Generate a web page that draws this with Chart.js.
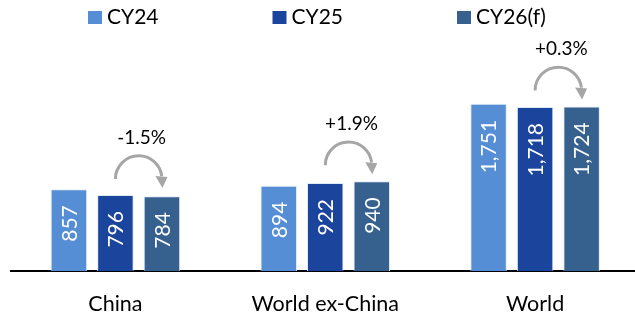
<!DOCTYPE html>
<html><head><meta charset="utf-8">
<script src="https://cdn.jsdelivr.net/npm/chart.js@4.4.1/dist/chart.umd.min.js"></script>
<style>
html,body{margin:0;padding:0;background:#fff;overflow:hidden;width:635px;height:314px}
#wrap{position:absolute;left:0;top:0;width:641px;height:314px}
</style>
</head><body>
<div id="wrap"><canvas id="c" width="641" height="314"></canvas></div>
<script>
const categories = ['China', 'World ex-China', 'World'];
const seriesNames = ['CY24', 'CY25', 'CY26(f)'];
const cy24 = [857, 894, 1751];
const cy25 = [796, 922, 1718];
const cy26 = [784, 940, 1724];
const changeLabels = ['-1.5%', '+1.9%', '+0.3%'];
const seriesColors = ['#558ED5', '#1B449C', '#36618F'];

const FONT = 'Lato, "Open Sans", sans-serif';

const legendPlugin = {
  id: 'customLegend',
  afterDraw(chart) {
    const ctx = chart.ctx;
    ctx.save();
    ctx.font = '21px ' + FONT;
    ctx.textBaseline = 'alphabetic';
    ctx.textAlign = 'left';
    chart.data.datasets.forEach((ds, i) => {
      const x = 88 + i * 184.5;
      ctx.fillStyle = ds.backgroundColor;
      ctx.fillRect(x, 11, 14, 13);
      ctx.fillStyle = '#000';
      ctx.fillText(ds.label, x + 19, 24);
    });
    ctx.restore();
  }
};

const valueLabelPlugin = {
  id: 'valueLabels',
  afterDatasetsDraw(chart) {
    const ctx = chart.ctx;
    ctx.save();
    ctx.font = '21px ' + FONT;
    ctx.fillStyle = '#fff';
    chart.data.datasets.forEach((ds, di) => {
      const meta = chart.getDatasetMeta(di);
      meta.data.forEach((bar, i) => {
        const v = ds.data[i];
        ctx.save();
        ctx.translate(bar.x + 1, bar.y + 16);
        ctx.rotate(-Math.PI / 2);
        ctx.textAlign = 'right';
        ctx.textBaseline = 'middle';
        ctx.fillText(v.toLocaleString('en-US'), 0, 0);
        ctx.restore();
      });
    });
    ctx.restore();
  }
};

const arrowPlugin = {
  id: 'changeArrows',
  afterDatasetsDraw(chart) {
    const ctx = chart.ctx;
    const m1 = chart.getDatasetMeta(1);
    const m2 = chart.getDatasetMeta(2);
    ctx.save();
    categories.forEach((c, i) => {
      const b1 = m1.data[i], b2 = m2.data[i];
      const x1 = b1.x, x2 = b2.x;
      const cx = (x1 + x2) / 2;
      const r = (x2 - x1) / 2;
      const base = Math.min(b1.y, b2.y) - 16;
      ctx.strokeStyle = '#A6A6A6';
      ctx.fillStyle = '#A6A6A6';
      ctx.lineWidth = 3;
      ctx.beginPath();
      ctx.arc(cx, base, r, Math.PI, 2 * Math.PI - 0.12, false);
      ctx.stroke();
      ctx.beginPath();
      ctx.moveTo(x2 - 6.5, base - 3);
      ctx.lineTo(x2 + 5.5, base - 2);
      ctx.lineTo(x2 + 0.5, base + 9);
      ctx.closePath();
      ctx.fill();
      ctx.fillStyle = '#000';
      ctx.font = '19px ' + FONT;
      ctx.textAlign = 'center';
      ctx.textBaseline = 'alphabetic';
      ctx.fillText(changeLabels[i], cx + 3, base - 35);
    });
    ctx.restore();
  }
};

new Chart(document.getElementById('c'), {
  type: 'bar',
  data: {
    labels: categories,
    datasets: [cy24, cy25, cy26].map((d, i) => ({
      label: seriesNames[i],
      data: d,
      backgroundColor: seriesColors[i],
      borderColor: 'rgba(220,232,246,0.9)',
      borderWidth: 1,
      categoryPercentage: 0.665,
      barPercentage: 0.785
    }))
  },
  options: {
    responsive: false,
    animation: false,
    devicePixelRatio: 1,
    layout: { padding: { left: 10.5, right: 1, top: 61, bottom: 0 } },
    plugins: { legend: { display: false }, tooltip: { enabled: false } },
    scales: {
      x: {
        grid: { display: false, drawTicks: false },
        border: { display: true, color: '#000', width: 2 },
        ticks: { color: '#000', font: { family: FONT, size: 21.5 }, padding: 20 },
        afterFit(s) { s.height = 43; }
      },
      y: { display: false, min: 0, max: 2200 }
    }
  },
  plugins: [legendPlugin, valueLabelPlugin, arrowPlugin]
});
</script>
</body></html>
